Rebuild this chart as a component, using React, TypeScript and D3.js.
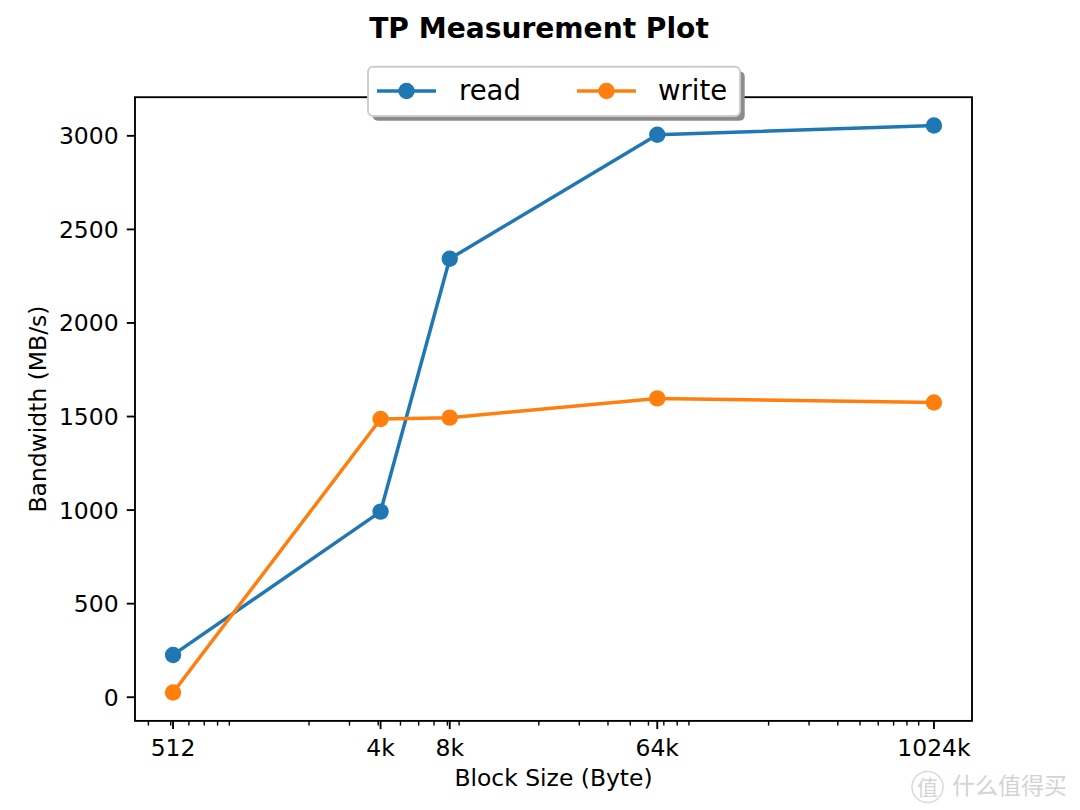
import React from "react";
import * as d3 from "d3";

const blockSizes = [512, 4096, 8192, 65536, 1048576];
const blockLabels = ["512", "4k", "8k", "64k", "1024k"];
const readValues = [226, 992, 2343, 3006, 3055];
const writeValues = [25, 1487, 1494, 1597, 1575];
const yTicks = [0, 500, 1000, 1500, 2000, 2500, 3000];
const seriesNames = ["read", "write"];
const seriesColors = ["#1f77b4", "#ff7f0e"];

const W = 1080;
const H = 810;
const FONT = "DejaVu Sans, sans-serif";
const FS = 23.44; // 10pt @ 168.75 dpi
const LEGEND_FS = 27.5;
const MARKER_R = 8.2;

export default function App() {
  const left = 135, right = 972, top = 97.2, bottom = 720.9;

  // matplotlib-like 5% margins (log space for x)
  const lx = d3.extent(blockSizes.map(Math.log10)) as [number, number];
  const mx = (lx[1] - lx[0]) * 0.05;
  const x = d3
    .scaleLog()
    .domain([Math.pow(10, lx[0] - mx), Math.pow(10, lx[1] + mx)])
    .range([left, right]);

  const all = [...readValues, ...writeValues];
  const ly = d3.extent(all) as [number, number];
  const my = (ly[1] - ly[0]) * 0.05;
  const y = d3.scaleLinear().domain([ly[0] - my, ly[1] + my]).range([bottom, top]);

  const minorTicks = x
    .ticks(20)
    .filter((v) => {
      const l = Math.log10(v);
      return Math.abs(l - Math.round(l)) > 1e-9;
    });

  const series = [readValues, writeValues];
  const line = d3
    .line<number>()
    .x((_, i) => x(blockSizes[i]))
    .y((d) => y(d));

  const majLen = 8.2, minLen = 4.7, pad = 8.2;

  // legend geometry
  const lgL = 368, lgT = 66.7, lgW = 372, lgH = 49.3;
  const lgCy = lgT + lgH / 2;
  const handleStarts = [377, 577];
  const handleLen = 59;
  const textStarts = [459, 658];

  return (
    <svg width={W} height={H} style={{ display: "block", position: "absolute", left: 0, top: 0 }} fontFamily={FONT}>
      <rect x={0} y={0} width={W} height={H} fill="#fff" />
      <text x={539} y={37.5} textAnchor="middle" fontSize={28.1} fontWeight="bold" fill="#000">
        TP Measurement Plot
      </text>

      <defs>
        <clipPath id="plotclip">
          <rect x={left} y={top} width={right - left} height={bottom - top} />
        </clipPath>
      </defs>

      {/* data */}
      <g clipPath="url(#plotclip)">
        {series.map((vals, si) => (
          <g key={si}>
            <path d={line(vals) || ""} fill="none" stroke={seriesColors[si]} strokeWidth={3.5} strokeLinejoin="round" strokeLinecap="square" />
            {vals.map((v, i) => (
              <circle key={i} cx={x(blockSizes[i])} cy={y(v)} r={MARKER_R} fill={seriesColors[si]} />
            ))}
          </g>
        ))}
      </g>

      {/* spines */}
      <rect x={left} y={top} width={right - left} height={bottom - top} fill="none" stroke="#000" strokeWidth={1.875} />

      {/* x minor ticks */}
      {minorTicks.map((v, i) => (
        <line key={"mn" + i} x1={x(v)} x2={x(v)} y1={bottom} y2={bottom + minLen} stroke="#000" strokeWidth={1.4} />
      ))}
      {/* x major ticks */}
      {blockSizes.map((v, i) => (
        <g key={"xt" + i}>
          <line x1={x(v)} x2={x(v)} y1={bottom} y2={bottom + majLen} stroke="#000" strokeWidth={1.875} />
          <text x={x(v)} y={755.5} textAnchor="middle" fontSize={FS} fill="#000">
            {blockLabels[i]}
          </text>
        </g>
      ))}
      {/* y ticks */}
      {yTicks.map((v, i) => (
        <g key={"yt" + i}>
          <line x1={left - majLen} x2={left} y1={y(v)} y2={y(v)} stroke="#000" strokeWidth={1.875} />
          <text x={left - majLen - pad} y={y(v) + 8.5} textAnchor="end" fontSize={FS} fill="#000">
            {d3.format("d")(v)}
          </text>
        </g>
      ))}

      <text x={(left + right) / 2} y={786} textAnchor="middle" fontSize={FS} fill="#000">
        Block Size (Byte)
      </text>
      <text transform={`translate(46, ${(top + bottom) / 2}) rotate(-90)`} textAnchor="middle" fontSize={FS} fill="#000">
        Bandwidth (MB/s)
      </text>

      {/* legend */}
      <rect x={lgL + 4.7} y={lgT + 4.7} width={lgW} height={lgH} rx={5} fill="#8c8c8c" />
      <rect x={lgL} y={lgT} width={lgW} height={lgH} rx={5} fill="#fff" stroke="#cccccc" strokeWidth={1.875} />
      {seriesNames.map((name, si) => (
        <g key={"lg" + si}>
          <line x1={handleStarts[si]} x2={handleStarts[si] + handleLen} y1={lgCy - 0.3} y2={lgCy - 0.3} stroke={seriesColors[si]} strokeWidth={3.5} />
          <circle cx={handleStarts[si] + handleLen / 2} cy={lgCy - 0.3} r={MARKER_R} fill={seriesColors[si]} />
          <text x={textStarts[si]} y={lgCy + 9} fontSize={LEGEND_FS} fill="#000">
            {name}
          </text>
        </g>
      ))}

      {/* watermark */}
      <g opacity={0.9}>
        <circle cx={927.5} cy={787} r={15.5} fill="none" stroke="#d6d6d6" strokeWidth={1.5} />
        <text x={927.5} y={795} textAnchor="middle" fontSize={21} fill="#d0d0d0" fontFamily="Noto Sans CJK SC">
          值
        </text>
        <text x={952} y={794} fontSize={23} fill="#cfcfcf" fontFamily="Noto Sans CJK SC">
          什么值得买
        </text>
      </g>
    </svg>
  );
}
